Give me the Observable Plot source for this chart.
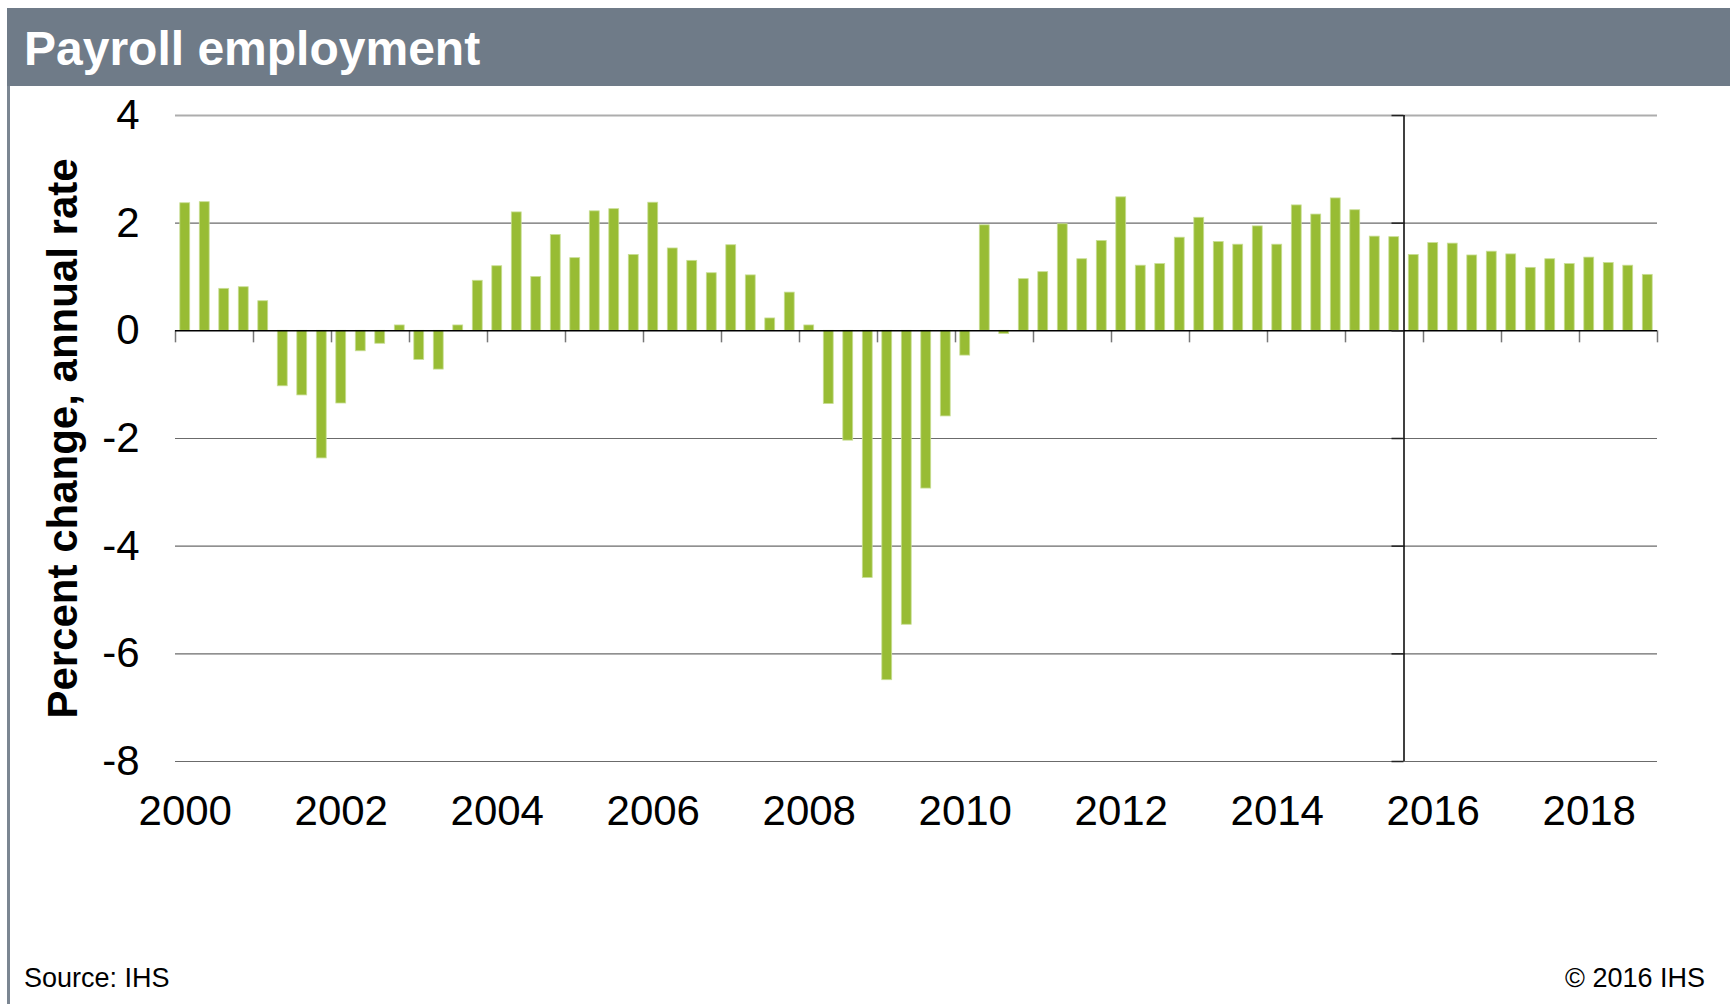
<!DOCTYPE html>
<html>
<head>
<meta charset="utf-8">
<script src="https://cdn.jsdelivr.net/npm/d3@7"></script>
<script src="https://cdn.jsdelivr.net/npm/@observablehq/plot@0.6"></script>
<style>
  html, body { margin: 0; padding: 0; background: #fff; }
  body { font-family: "Liberation Sans", Arial, sans-serif; }
  #wrap { position: relative; width: 1730px; height: 1004px; overflow: hidden; background: #fff; }
  #header { position: absolute; left: 7px; top: 8px; right: 0; height: 78px; background: #6f7b88; }
  #border { position: absolute; left: 7px; top: 86px; width: 3px; bottom: 0; background: #7b8692; }
  #title { position: absolute; left: 24px; top: 25px; font-size: 48px; line-height: 48px; font-weight: bold; color: #fff; white-space: nowrap; }
  #chart { position: absolute; left: 0; top: 86px; }
  #source, #copy { position: absolute; top: 965px; font-size: 27px; line-height: 27px; color: #000; white-space: nowrap; }
  #source { left: 24px; }
  #copy { right: 25px; }
</style>
</head>
<body>
<div id="wrap">
  <div id="header"></div>
  <div id="border"></div>
  <div id="title"></div>
  <div id="chart"></div>
  <div id="source"></div>
  <div id="copy"></div>
</div>
<script>
// ---- Data ----
const titleText = "Payroll employment";
const yAxisTitle = "Percent change, annual rate";
const sourceText = "Source: IHS";
const copyrightText = "© 2016 IHS";

const quarters = [
  "2000Q1","2000Q2","2000Q3","2000Q4","2001Q1","2001Q2","2001Q3","2001Q4",
  "2002Q1","2002Q2","2002Q3","2002Q4","2003Q1","2003Q2","2003Q3","2003Q4",
  "2004Q1","2004Q2","2004Q3","2004Q4","2005Q1","2005Q2","2005Q3","2005Q4",
  "2006Q1","2006Q2","2006Q3","2006Q4","2007Q1","2007Q2","2007Q3","2007Q4",
  "2008Q1","2008Q2","2008Q3","2008Q4","2009Q1","2009Q2","2009Q3","2009Q4",
  "2010Q1","2010Q2","2010Q3","2010Q4","2011Q1","2011Q2","2011Q3","2011Q4",
  "2012Q1","2012Q2","2012Q3","2012Q4","2013Q1","2013Q2","2013Q3","2013Q4",
  "2014Q1","2014Q2","2014Q3","2014Q4","2015Q1","2015Q2","2015Q3","2015Q4",
  "2016Q1","2016Q2","2016Q3","2016Q4","2017Q1","2017Q2","2017Q3","2017Q4",
  "2018Q1","2018Q2","2018Q3","2018Q4"
];

const payrollGrowth = [
   2.37,  2.39,  0.78,  0.81,  0.55, -1.03, -1.20, -2.37,
  -1.35, -0.38, -0.24,  0.10, -0.54, -0.72,  0.10,  0.93,
   1.20,  2.20,  1.00,  1.78,  1.35,  2.22,  2.26,  1.41,
   2.38,  1.53,  1.30,  1.07,  1.59,  1.03,  0.23,  0.71,
   0.10, -1.36, -2.04, -4.59, -6.49, -5.46, -2.93, -1.59,
  -0.46,  1.96, -0.06,  0.96,  1.09,  1.98,  1.33,  1.67,
   2.48,  1.21,  1.24,  1.73,  2.10,  1.65,  1.60,  1.94,
   1.60,  2.33,  2.16,  2.46,  2.24,  1.75,  1.74,  1.41,
   1.63,  1.62,  1.40,  1.47,  1.42,  1.17,  1.33,  1.24,
   1.36,  1.26,  1.21,  1.04
];

const yTicks = [4, 2, 0, -2, -4, -6, -8];
const xLabelYears = ["2000","2002","2004","2006","2008","2010","2012","2014","2016","2018"];
const yearBoundaries = [2000,2001,2002,2003,2004,2005,2006,2007,2008,2009,2010,2011,2012,2013,2014,2015,2016,2017,2018,2019];
const forecastStart = "2015Q4";

// ---- Build ----
const qTime = q => +q.slice(0, 4) + (+q.slice(5) - 1) / 4;
const data = quarters.map((q, i) => ({q, t0: qTime(q), t1: qTime(q) + 0.25, v: payrollGrowth[i]}));
const midGrid = yTicks.filter(d => d !== 4 && d !== 0);

const chart = Plot.plot({
  width: 1730,
  height: 760,
  marginLeft: 175,
  marginRight: 73,
  marginTop: 29,
  marginBottom: 85,
  style: {background: "transparent", fontFamily: "'Liberation Sans', Arial, sans-serif", fontSize: "42px", color: "#000", overflow: "visible"},
  x: {domain: [2000, 2019], axis: null},
  y: {domain: [-8, 4], axis: null},
  marks: [
    Plot.ruleY(midGrid, {stroke: "#6b6b6b", strokeWidth: 1.2}),
    Plot.ruleY([4], {stroke: "#adadad", strokeWidth: 2}),
    Plot.rectY(data, {x1: "t0", x2: "t1", y: "v", fill: "#98bc34", stroke: "#c9de95", strokeWidth: 0.8, insetLeft: 4.8, insetRight: 4.8}),
    Plot.ruleX(yearBoundaries, {x: d => d, y1: 0, y2: 0, insetBottom: -12, stroke: "#777", strokeWidth: 1.5}),
    Plot.ruleY([0], {stroke: "#000", strokeWidth: 1.5}),
    Plot.ruleX([forecastStart], {x: qTime, stroke: "#000", strokeWidth: 1.5}),
    Plot.ruleY(yTicks, {x1: qTime(forecastStart), x2: qTime(forecastStart), insetLeft: -12, stroke: "#222", strokeWidth: 1.5}),
    Plot.axisY(yTicks, {tickSize: 0, tickPadding: 36, tickFormat: d => String(d), fontSize: 42, label: null}),
    Plot.axisX(xLabelYears.map(y => +y + 0.125), {tickSize: 0, tickPadding: 34, tickFormat: d => String(Math.floor(d)), fontSize: 42, label: null}),
    Plot.text([yAxisTitle], {frameAnchor: "left", textAnchor: "middle", dx: -112, rotate: -90, fontWeight: "bold", fontSize: 42})
  ]
});

document.getElementById("chart").appendChild(chart);
document.getElementById("title").textContent = titleText;
document.getElementById("source").textContent = sourceText;
document.getElementById("copy").textContent = copyrightText;
</script>
</body>
</html>
